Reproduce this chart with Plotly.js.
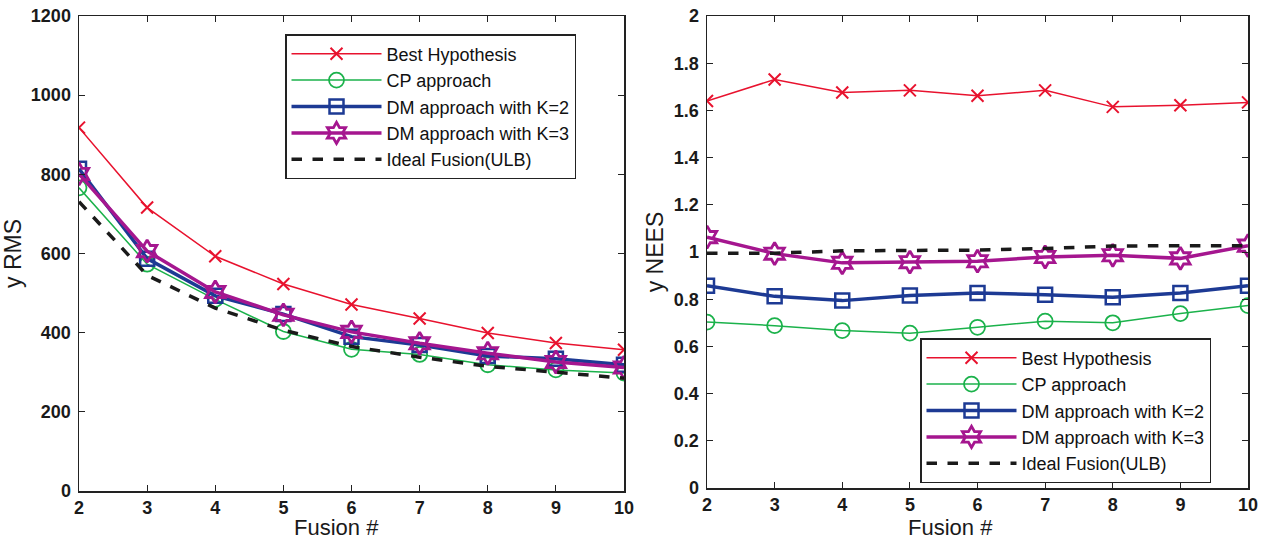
<!DOCTYPE html>
<html><head><meta charset="utf-8">
<script src="https://cdn.plot.ly/plotly-3.0.1.min.js"></script>
<style>html,body{margin:0;padding:0;background:#fff}#chart{width:1262px;height:539px}</style>
</head><body><div id="chart"></div>
<script>
const fusion = [2,3,4,5,6,7,8,9,10];
const seriesNames = ["Best Hypothesis","CP approach","DM approach with K=2","DM approach with K=3","Ideal Fusion(ULB)"];
// y RMS
const rmsBest  = [918,716,593,523,471,436,399,374,357];
const rmsCP    = [766,573,484,403,358,345,319,306,298];
const rmsDM2   = [814,587,493,447,390,369,341,334,319];
const rmsDM3   = [801,606,503,445,402,373,348,326,312];
const rmsIdeal = [731,545,462,406,365,338,315,300,285];
// y NEES
const neesBest  = [1.640,1.731,1.676,1.685,1.662,1.685,1.615,1.622,1.634];
const neesCP    = [0.703,0.688,0.667,0.656,0.681,0.707,0.700,0.739,0.773];
const neesDM2   = [0.857,0.812,0.794,0.816,0.826,0.819,0.808,0.826,0.857];
const neesDM3   = [1.063,0.993,0.954,0.957,0.961,0.979,0.986,0.973,1.027];
const neesIdeal = [0.995,0.995,1.005,1.008,1.008,1.015,1.025,1.027,1.027];
const xTitle = "Fusion #";
const yTitles = ["y RMS","y NEES"];

const styles = [
  {line:{color:'#e8122e',width:1.5}, marker:{symbol:'x-thin-open',size:12,line:{color:'#e8122e',width:2}}, mode:'lines+markers'},
  {line:{color:'#1bb24b',width:1.5}, marker:{symbol:'circle-open',size:15,line:{color:'#1bb24b',width:1.8}}, mode:'lines+markers'},
  {line:{color:'#1d3a94',width:3.5}, marker:{symbol:'square-open',size:14,line:{color:'#1d3a94',width:2.5}}, mode:'lines+markers'},
  {line:{color:'#a5168f',width:3.5}, marker:{symbol:'hexagram-open',size:17,line:{color:'#a5168f',width:2.8}}, mode:'lines+markers'},
  {line:{color:'#1a1a1a',width:3.5,dash:'dash'}, mode:'lines'}
];
const leftY = [rmsBest,rmsCP,rmsDM2,rmsDM3,rmsIdeal];
const rightY = [neesBest,neesCP,neesDM2,neesDM3,neesIdeal];
const traces = [];
leftY.forEach((ys,i)=>traces.push(Object.assign({x:fusion,y:ys,name:seriesNames[i],xaxis:'x',yaxis:'y',legend:'legend'},JSON.parse(JSON.stringify(styles[i])))));
rightY.forEach((ys,i)=>traces.push(Object.assign({x:fusion,y:ys,name:seriesNames[i],xaxis:'x2',yaxis:'y2',legend:'legend2'},JSON.parse(JSON.stringify(styles[i])))));

const fam = 'Liberation Sans, Arial, sans-serif';
const tickFont = {family:fam,size:18,color:'#1a1a1a',weight:'bold'};
const xTitleFont = {family:fam,size:22,color:'#1a1a1a'};
const yTitleFont = {family:fam,size:23,color:'#1a1a1a'};
const axBase = {showline:true,linecolor:'#222',linewidth:1.5,mirror:'ticks',ticks:'inside',ticklen:6,tickcolor:'#222',showgrid:false,zeroline:false,tickfont:tickFont};
const legendBase = {bgcolor:'#fff',bordercolor:'#222',borderwidth:1.5,font:{family:fam,size:18,color:'#111'},tracegroupgap:0,itemwidth:90};
const layout = {
  width:1262,height:539,paper_bgcolor:'#fff',plot_bgcolor:'#fff',
  margin:{l:0,r:0,t:0,b:0},
  xaxis:Object.assign({},axBase,{domain:[79/1262,624/1262],range:[2,10],dtick:1,anchor:'y',ticklabelstandoff:0}),
  yaxis:Object.assign({},axBase,{domain:[48/539,523/539],range:[0,1200],dtick:200,anchor:'x',ticklabelstandoff:3,title:{text:yTitles[0],font:yTitleFont,standoff:4}}),
  xaxis2:Object.assign({},axBase,{domain:[707/1262,1248/1262],range:[2,10],dtick:1,anchor:'y2',ticklabelstandoff:0}),
  yaxis2:Object.assign({},axBase,{domain:[51/539,523/539],range:[0,2],dtick:0.2,anchor:'x2',ticklabelstandoff:3,title:{text:yTitles[1],font:yTitleFont,standoff:4}}),
  legend:Object.assign({},legendBase,{x:285/1262,y:(539-34)/539,xanchor:'left',yanchor:'top'}),
  legend2:Object.assign({},legendBase,{x:920/1262,y:(539-483)/539,xanchor:'left',yanchor:'bottom'}),
  annotations:[
    {text:xTitle,xref:'paper',yref:'paper',x:336/1262,y:0,xanchor:'center',yanchor:'bottom',yshift:-2,borderpad:0,showarrow:false,font:xTitleFont},
    {text:xTitle,xref:'paper',yref:'paper',x:950/1262,y:0,xanchor:'center',yanchor:'bottom',yshift:-2,borderpad:0,showarrow:false,font:xTitleFont}
  ],
  showlegend:true
};
Plotly.newPlot('chart',traces,layout,{displayModeBar:false,staticPlot:true});
</script></body></html>
